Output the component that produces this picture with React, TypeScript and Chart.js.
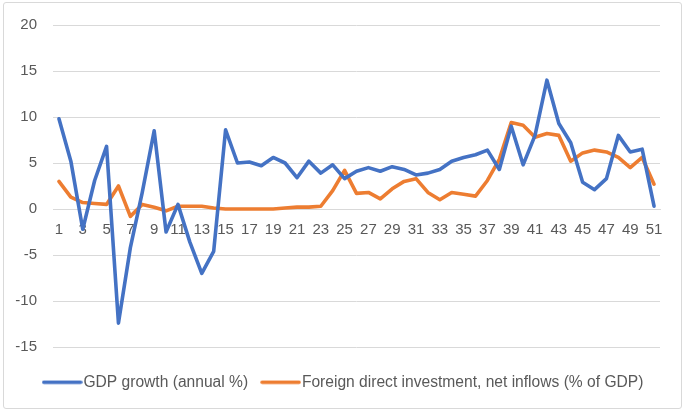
import React, { useEffect, useRef } from 'react';
import { Chart, registerables } from 'chart.js';

Chart.register(...registerables);

const categories = [
  '1', '2', '3', '4', '5', '6', '7', '8', '9', '10',
  '11', '12', '13', '14', '15', '16', '17', '18', '19', '20',
  '21', '22', '23', '24', '25', '26', '27', '28', '29', '30',
  '31', '32', '33', '34', '35', '36', '37', '38', '39', '40',
  '41', '42', '43', '44', '45', '46', '47', '48', '49', '50', '51',
];

const gdpGrowth = [
  9.8, 5.2, -2.2, 3.1, 6.8, -12.4, -4.2, 1.8, 8.5, -2.5,
  0.5, -3.6, -7.0, -4.6, 8.6, 5.0, 5.1, 4.7, 5.6, 5.0,
  3.4, 5.2, 3.9, 4.8, 3.3, 4.1, 4.5, 4.1, 4.6, 4.3,
  3.7, 3.9, 4.3, 5.2, 5.6, 5.9, 6.4, 4.3, 9.0, 4.8,
  8.0, 14.0, 9.3, 7.2, 2.9, 2.1, 3.3, 8.0, 6.2, 6.5, 0.3,
];

const fdiInflows = [
  3.0, 1.3, 0.7, 0.6, 0.5, 2.5, -0.8, 0.5, 0.2, -0.2,
  0.3, 0.3, 0.3, 0.1, 0.0, 0.0, 0.0, 0.0, 0.0, 0.1,
  0.2, 0.2, 0.3, 2.0, 4.2, 1.7, 1.8, 1.1, 2.2, 3.0,
  3.3, 1.8, 1.0, 1.8, 1.6, 1.4, 3.1, 5.4, 9.4, 9.1,
  7.8, 8.2, 8.0, 5.2, 6.1, 6.4, 6.2, 5.6, 4.5, 5.6, 2.7,
];

const seriesNames = ['GDP growth (annual %)', 'Foreign direct investment, net inflows (% of GDP)'];
const seriesColors = ['#4472C4', '#ED7D31'];
const yTicks = { min: -15, max: 20, step: 5 };

const FONT = '"Liberation Sans", Arial, sans-serif';
const TEXT = '#595959';
const GRID = '#d9d9d9';

function legendSwatch(color: string): HTMLCanvasElement {
  const c = document.createElement('canvas');
  c.width = 41;
  c.height = 5;
  const ctx = c.getContext('2d')!;
  ctx.strokeStyle = color;
  ctx.lineWidth = 3.5;
  ctx.lineCap = 'round';
  ctx.beginPath();
  ctx.moveTo(2, 2.5);
  ctx.lineTo(39, 2.5);
  ctx.stroke();
  return c;
}

const shiftLegend = {
  id: 'shiftLegend',
  afterLayout(chart: any) {
    if (chart.legend) {
      chart.legend.left += 16;
      chart.legend.right += 16;
    }
  },
};

export default function App() {
  const ref = useRef<HTMLCanvasElement | null>(null);

  useEffect(() => {
    if (!ref.current) return;
    const mk = (i: number, data: number[]) => ({
      label: seriesNames[i],
      data,
      borderColor: seriesColors[i],
      backgroundColor: seriesColors[i],
      borderWidth: 3.6,
      pointRadius: 0,
      pointHoverRadius: 0,
      pointStyle: legendSwatch(seriesColors[i]) as any,
      tension: 0,
      borderJoinStyle: 'round' as const,
      borderCapStyle: 'round' as const,
    });
    const chart = new Chart(ref.current, {
      type: 'line',
      data: {
        labels: categories,
        datasets: [mk(0, gdpGrowth), mk(1, fdiInflows)],
      },
      plugins: [shiftLegend],
      options: {
        animation: false,
        responsive: false,
        maintainAspectRatio: false,
        layout: { padding: { left: 0, right: 25, top: 23, bottom: 12 } },
        scales: {
          x: {
            type: 'category',
            position: { y: 0 } as any,
            offset: true,
            grid: { display: false, drawTicks: false },
            border: { display: true, color: GRID, width: 1 },
            ticks: {
              autoSkip: false,
              maxRotation: 0,
              minRotation: 0,
              padding: 12,
              color: TEXT,
              font: { family: FONT, size: 15 },
              callback: (_v: any, i: number) => (i % 2 === 0 ? categories[i] : ''),
            },
          },
          y: {
            min: yTicks.min,
            max: yTicks.max,
            grid: { color: GRID, lineWidth: 1, drawTicks: false },
            border: { display: false },
            ticks: {
              stepSize: yTicks.step,
              padding: 16,
              color: TEXT,
              font: { family: FONT, size: 15 },
            },
            afterFit: (s: any) => {
              s.width = 53;
            },
          },
        },
        plugins: {
          tooltip: { enabled: false },
          legend: {
            position: 'bottom',
            title: { display: true, text: '', padding: 0, font: { size: 7 } },
            labels: {
              usePointStyle: true,
              pointStyleWidth: 27,
              padding: 19,
              color: TEXT,
              font: { family: FONT, size: 15.6 },
            },
          },
        },
      },
    });
    return () => chart.destroy();
  }, []);

  return (
    <div style={{ position: 'absolute', left: 0, top: 0, width: 685, height: 412, background: '#fff' }}>
      <div
        style={{
          position: 'absolute',
          left: 3,
          top: 2,
          width: 677,
          height: 405,
          border: '1px solid #d9d9d9',
          borderRadius: 3,
          boxSizing: 'content-box',
        }}
      />
      <canvas ref={ref} width={685} height={412} style={{ position: 'absolute', left: 0, top: 0 }} />
    </div>
  );
}
